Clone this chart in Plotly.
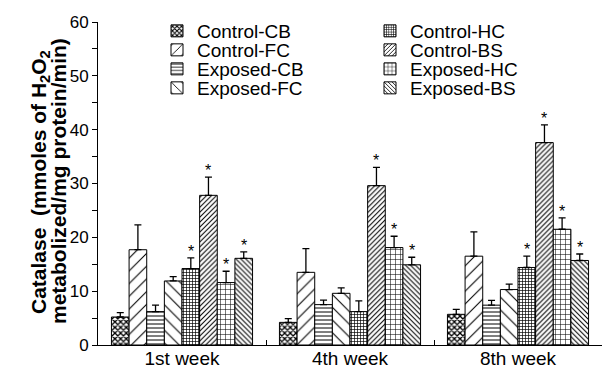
import plotly.graph_objects as go

weeks = ["1st week", "4th week", "8th week"]
series = ["Control-CB", "Control-FC", "Exposed-CB", "Exposed-FC",
          "Control-HC", "Control-BS", "Exposed-HC", "Exposed-BS"]

control_cb = [5.2, 4.2, 5.7]
control_fc = [17.7, 13.5, 16.5]
exposed_cb = [6.2, 7.5, 7.4]
exposed_fc = [11.9, 9.6, 10.3]
control_hc = [14.2, 6.2, 14.4]
control_bs = [27.8, 29.6, 37.6]
exposed_hc = [11.6, 18.1, 21.5]
exposed_bs = [16.1, 14.9, 15.7]

err_control_cb = [0.8, 0.7, 0.9]
err_control_fc = [4.6, 4.4, 4.5]
err_exposed_cb = [1.2, 0.85, 0.9]
err_exposed_fc = [0.8, 1.0, 1.0]
err_control_hc = [2.0, 2.0, 2.1]
err_control_bs = [3.4, 3.4, 3.3]
err_exposed_hc = [2.1, 2.1, 2.1]
err_exposed_bs = [1.2, 1.4, 1.2]

# significance stars: per week, indices of marked series
stars_1st = [4, 5, 6, 7]
stars_4th = [5, 6, 7]
stars_8th = [4, 5, 6, 7]

values = [control_cb, control_fc, exposed_cb, exposed_fc,
          control_hc, control_bs, exposed_hc, exposed_bs]
errors = [err_control_cb, err_control_fc, err_exposed_cb, err_exposed_fc,
          err_control_hc, err_control_bs, err_exposed_hc, err_exposed_bs]
stars = [stars_1st, stars_4th, stars_8th]

patterns = [
    dict(shape="x", size=4, solidity=0.55),
    dict(shape="/", size=9, solidity=0.12),
    dict(shape="-", size=4, solidity=0.25),
    dict(shape="\\", size=9, solidity=0.12),
    dict(shape="+", size=3, solidity=0.4),
    dict(shape="/", size=3.5, solidity=0.3),
    dict(shape="+", size=5, solidity=0.2),
    dict(shape="\\", size=3.5, solidity=0.3),
]

FONT = "Liberation Sans, Arial, sans-serif"
W, H = 602, 368
ML, MR, MT, MB = 98, 0, 22, 23
PW, PH = W - ML - MR, H - MT - MB

# legend rows: each row holds two entries (left column, right column)
row_names = ["legend", "legend2", "legend3", "legend4"]
row_centers = [31, 50, 69, 88]

fig = go.Figure()
for j, (name, vals, errs, pat) in enumerate(zip(series, values, errors, patterns)):
    fig.add_trace(go.Bar(
        name=name, x=weeks, y=vals,
        legend=row_names[j % 4], legendrank=j // 4,
        marker=dict(color="white", line=dict(color="black", width=1),
                    pattern=dict(fgcolor="black", bgcolor="white", fillmode="replace", **pat)),
        error_y=dict(type="data", array=errs, arrayminus=[0] * len(errs), symmetric=False,
                     color="black", thickness=1.3, width=3.5),
    ))

bargap = 0.16
n = len(series)
bw = (1 - bargap) / n
annotations = []
for i, idxs in enumerate(stars):
    for j in idxs:
        xpos = i - (1 - bargap) / 2 + bw * (j + 0.5)
        annotations.append(dict(x=xpos, y=values[j][i] + errors[j][i], xref="x", yref="y",
                                text="*", showarrow=False, yanchor="bottom", yshift=-4,
                                font=dict(family=FONT, size=16, color="black")))

annotations.append(dict(x=(40 - ML) / PW, y=(MT + PH - 182) / PH, xref="paper", yref="paper",
                        text="<b>Catalase  (mmoles of H<sub>2</sub>O<sub>2</sub></b>",
                        textangle=-90, showarrow=False, xanchor="center", yanchor="middle",
                        font=dict(family=FONT, size=21, color="black")))
annotations.append(dict(x=(58 - ML) / PW, y=(MT + PH - 181) / PH, xref="paper", yref="paper",
                        text="<b>metabolized/mg protein/min)</b>",
                        textangle=-90, showarrow=False, xanchor="center", yanchor="middle",
                        font=dict(family=FONT, size=21, color="black")))

legends = {}
for name, yc in zip(row_names, row_centers):
    legends[name] = dict(bgcolor="rgba(0,0,0,0)", font=dict(family=FONT, size=19, color="black"),
                         orientation="h", entrywidth=168, entrywidthmode="pixels",
                         x=(157 - ML) / PW, xanchor="left",
                         y=(MT + PH - yc) / PH, yanchor="middle", itemwidth=30)

fig.update_layout(
    template="none",
    width=W, height=H,
    margin=dict(l=ML, r=MR, t=MT, b=MB, autoexpand=False),
    paper_bgcolor="white", plot_bgcolor="white",
    barmode="group", bargap=bargap, bargroupgap=0,
    font=dict(family=FONT, size=17, color="black"),
    showlegend=True,
    annotations=annotations,
    xaxis=dict(showline=True, linecolor="black", linewidth=1, ticks="inside", ticklen=5,
               tickson="boundaries", tickcolor="black", showgrid=False, range=[-0.5, 2.5],
               automargin=False, ticklabelstandoff=-4,
               tickfont=dict(family=FONT, size=19)),
    yaxis=dict(range=[0, 60], dtick=10, showline=True, linecolor="black", linewidth=1,
               ticks="outside", ticklen=5, tickcolor="black", showgrid=False, zeroline=False,
               automargin=False,
               tickfont=dict(family=FONT, size=17),
               minor=dict(dtick=5, ticks="outside", ticklen=5, tickcolor="black", showgrid=False)),
    **legends,
)

fig.write_html("out.html", config={"displayModeBar": False},
               post_script="document.body.style.margin='0';document.body.style.padding='0';")
